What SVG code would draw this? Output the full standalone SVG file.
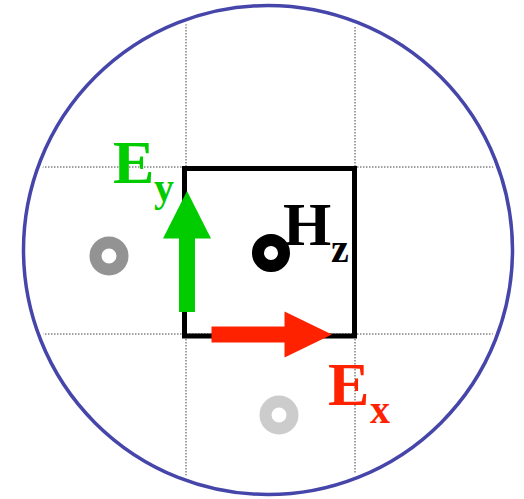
<svg xmlns="http://www.w3.org/2000/svg" width="524" height="499" viewBox="0 0 524 499">
<style>
.grid{stroke:#444;stroke-width:1;stroke-dasharray:1.5,1.5;fill:none}
.lbl{font-family:"Liberation Serif","Times New Roman",serif;font-weight:bold}
.ring{fill:none;stroke-width:12}
</style>
<defs>
<clipPath id="inside"><circle cx="268" cy="250" r="240"/></clipPath>
</defs>
<rect width="524" height="499" fill="#fff"/>
<g id="boundary"><circle cx="268" cy="250" r="244.5" fill="none" stroke="#4646aa" stroke-width="3.5"/></g>
<g id="grid" clip-path="url(#inside)">
<line class="grid" x1="186" y1="0" x2="186" y2="499"/>
<line class="grid" x1="355" y1="0" x2="355" y2="499"/>
<line class="grid" x1="0" y1="167" x2="524" y2="167"/>
<line class="grid" x1="0" y1="334" x2="524" y2="334"/>
</g>
<g id="cell"><rect x="184.5" y="168.5" width="170" height="167.5" fill="none" stroke="#000" stroke-width="5"/></g>
<g id="ring-left"><circle class="ring" cx="109" cy="256" r="13.5" stroke="#939393"/></g>
<g id="ring-bottom"><circle class="ring" cx="279" cy="415" r="13.5" stroke="#cccccc"/></g>
<g id="Hz">
<circle class="ring" cx="271" cy="253" r="13" stroke="#000"/>
<text class="lbl" x="283" y="245" font-size="62" fill="#000">H</text>
<text class="lbl" x="331" y="262" font-size="40" fill="#000">z</text>
</g>
<g id="connectors">
<g id="Ey-arrow"><rect x="179" y="236" width="16" height="76" fill="#00cc00"/><polygon points="163,238.5 211,238.5 187,191" fill="#00cc00"/></g>
<g id="Ex-arrow"><rect x="211.5" y="326.5" width="75" height="16" fill="#ff2200"/><polygon points="284.5,311.5 284.5,357.5 332,334.5" fill="#ff2200"/></g>
</g>
<g id="Ey">
<text class="lbl" x="113" y="183" font-size="62" fill="#00cc00">E</text>
<text class="lbl" x="154" y="201" font-size="40" fill="#00cc00">y</text>
</g>
<g id="Ex">
<text class="lbl" x="328" y="405" font-size="62" fill="#ff2200">E</text>
<text class="lbl" x="370" y="423" font-size="40" fill="#ff2200">x</text>
</g>
</svg>
